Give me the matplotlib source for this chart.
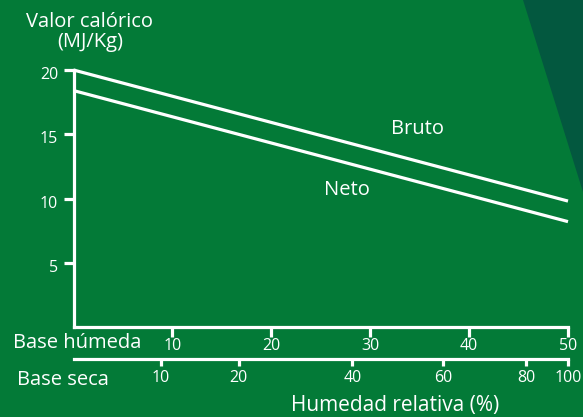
import matplotlib
matplotlib.use('Agg')
import matplotlib.pyplot as plt
from matplotlib.patches import Polygon
from matplotlib.transforms import ScaledTranslation

# datos
humedad_base = [0, 50]          # base húmeda (%)
bruto = [20.0, 9.8]             # MJ/Kg
neto = [18.4, 8.2]

ticks_y = [5, 10, 15, 20]
ticks_humeda = [10, 20, 30, 40, 50]
# posiciones de la escala base seca sobre la escala base húmeda
seca_pos = [8.8, 16.7, 28.2, 37.4, 45.8, 50]
seca_etiquetas = ['10', '20', '40', '60', '80', '100']

verde = '#037a37'
verde_oscuro = '#03583f'
blanco = 'white'

plt.rcParams['font.family'] = ['Open Sans', 'DejaVu Sans']

W, H = 583, 417
fig = plt.figure(figsize=(W / 100, H / 100), dpi=100, facecolor=verde)


def px(x, y):
    return (x / W, 1 - y / H)


# triangulo oscuro arriba a la derecha
fig.patches.append(Polygon([px(523, 0), px(583, 0), px(583, 192)], closed=True,
                           transform=fig.transFigure, facecolor=verde_oscuro,
                           edgecolor='none', zorder=0))

izq, der = 73.5, 568
y0, y20 = 327, 70
ax = fig.add_axes([izq / W, 1 - y0 / H, (der - izq) / W, (y0 - y20) / H])
ax.set_facecolor('none')
ax.set_xlim(0, 50)
ax.set_ylim(0, 20)

lw = 2.3
ax.plot(humedad_base, bruto, color=blanco, lw=lw, clip_on=False, solid_capstyle='butt')
ax.plot(humedad_base, neto, color=blanco, lw=lw, clip_on=False, solid_capstyle='butt')

for s in ['top', 'right']:
    ax.spines[s].set_visible(False)
for s in ['left', 'bottom']:
    ax.spines[s].set_color(blanco)
    ax.spines[s].set_linewidth(lw)

ax.set_yticks(ticks_y)
ax.set_xticks(ticks_humeda)
ax.tick_params(axis='y', direction='out', length=7, width=lw, colors=blanco,
               labelsize=11.5, pad=4)
ax.tick_params(axis='x', direction='out', length=7, width=lw, colors=blanco,
               labelsize=11.5, pad=1)
# etiquetas del eje y un poco mas abajo, como en el original
baja = ScaledTranslation(0, -3 / 100, fig.dpi_scale_trans)
for t in ax.get_yticklabels():
    t.set_transform(t.get_transform() + baja)

# eje base seca
sec = ax.secondary_xaxis(-(359 - y0) / (y0 - y20))
sec.set_xticks(seca_pos, labels=seca_etiquetas)
sec.spines['bottom'].set_color(blanco)
sec.spines['bottom'].set_linewidth(lw)
sec.tick_params(axis='x', direction='out', length=5, width=lw, colors=blanco,
                labelsize=11.5, pad=3)

ax.text(34.8, 15.4, 'Bruto', color=blanco, fontsize=14.5, ha='center', va='center')
ax.text(27.6, 10.7, 'Neto', color=blanco, fontsize=14.5, ha='center', va='center')

fig.text(*px(90, 32), 'Valor calórico\n(MJ/Kg)', color=blanco, fontsize=14.5,
         ha='center', va='center', linespacing=1.0)
fig.text(*px(77, 343), 'Base húmeda', color=blanco, fontsize=14.5, ha='center', va='center')
fig.text(*px(63, 380), 'Base seca', color=blanco, fontsize=14.5, ha='center', va='center')
fig.text(*px(395, 406), 'Humedad relativa (%)', color=blanco, fontsize=15,
         ha='center', va='center')

fig.savefig('out.png', dpi=100, facecolor=verde)
